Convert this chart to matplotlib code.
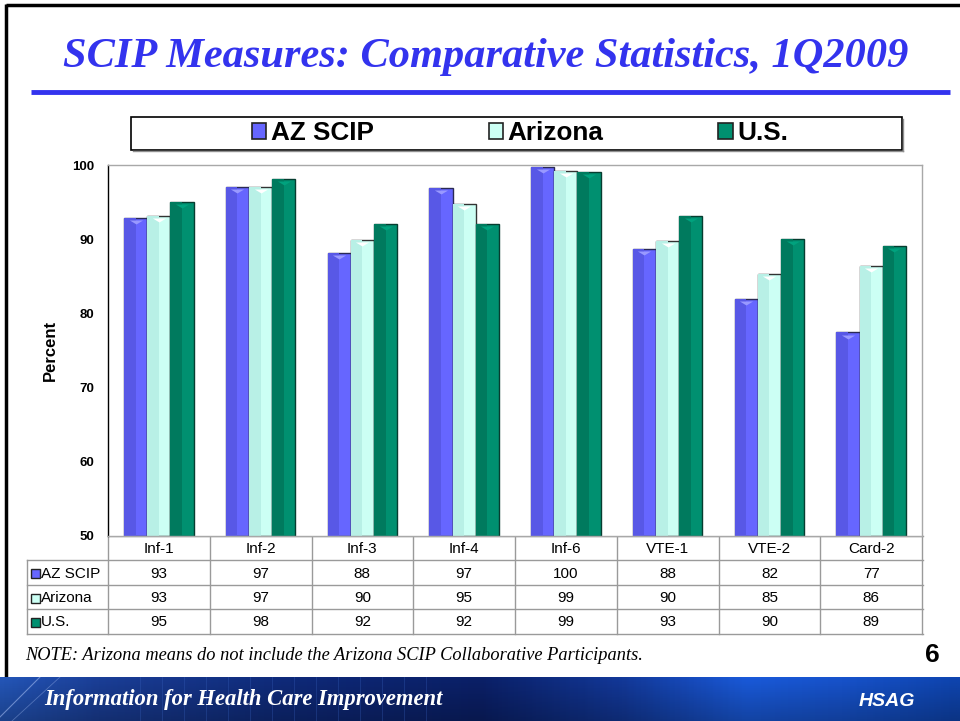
import numpy as np
import matplotlib
matplotlib.use("Agg")
import matplotlib.pyplot as plt
from matplotlib.patches import Rectangle
from matplotlib.colors import LinearSegmentedColormap

# ---------------- data ----------------
categories = ['Inf-1', 'Inf-2', 'Inf-3', 'Inf-4', 'Inf-6', 'VTE-1', 'VTE-2', 'Card-2']
series_names = ['AZ SCIP', 'Arizona', 'U.S.']
az_scip = [92.9, 97.0, 88.1, 96.9, 99.7, 88.7, 81.9, 77.4]
arizona = [93.1, 97.0, 89.9, 94.7, 99.2, 89.7, 85.3, 86.4]
us = [95.0, 98.1, 92.0, 92.0, 99.0, 93.1, 90.0, 89.1]
table_az_scip = [93, 97, 88, 97, 100, 88, 82, 77]
table_arizona = [93, 97, 90, 95, 99, 90, 85, 86]
table_us = [95, 98, 92, 92, 99, 93, 90, 89]
y_ticks = [50, 60, 70, 80, 90, 100]

title = 'SCIP Measures: Comparative Statistics, 1Q2009'
note = 'NOTE: Arizona means do not include the Arizona SCIP Collaborative Participants.'
banner_text = 'Information for Health Care Improvement'
page_no = '6'

# ---------------- style ----------------
face = ['#6666FF', '#CCFFF4', '#009070']
dark = ['#5858E6', '#B8F0E6', '#007A5E']
tri = ['#9999FF', '#FFFFFF', '#00A27E']
edge = ['#2A2A55', '#333333', '#063D30']
title_blue = '#3333EE'

W, H = 960, 721
fig = plt.figure(figsize=(W / 100, H / 100), dpi=100)
fig.patch.set_facecolor('white')

def fx(px):
    return px / W

def fy(py):
    return 1 - py / H

# overlay axes in pixel coords
ov = fig.add_axes([0, 0, 1, 1], zorder=-1)
ov.set_xlim(0, W)
ov.set_ylim(H, 0)
ov.axis('off')

# slide frame
ov.plot([6, 960], [5, 5], color='black', lw=2.5, solid_capstyle='butt')
ov.plot([6, 6], [4, 678], color='black', lw=2.5, solid_capstyle='butt')

# title and divider
fig.text(fx(486), fy(57), title, ha='center', va='center', color=title_blue,
         family='Liberation Serif', style='italic', fontweight='bold', fontsize=30.5)
ov.plot([31, 950], [92, 92], color=title_blue, lw=3.5, solid_capstyle='butt')

# ---------------- chart ----------------
L, R, T, B = 108, 922, 165, 535.5
ax = fig.add_axes([fx(L), fy(B), (R - L) / W, (B - T) / H])
n = len(categories)
x = np.arange(n)
bw = 0.228
all_series = [az_scip, arizona, us]
for i, vals in enumerate(all_series):
    xs = x + (i - 1) * bw
    vals = np.asarray(vals)
    ax.bar(xs, vals - 50, bottom=50, width=bw, color=face[i], edgecolor=edge[i],
           linewidth=1.0, zorder=2)
    ax.bar(xs - bw * 0.25, vals - 50, bottom=50, width=bw * 0.5, color=dark[i],
           linewidth=0, zorder=2.1)
    ax.scatter(xs, vals - 0.55, marker=[(-1, 0.3), (1, 0.3), (0, -0.3)],
               s=90, color=tri[i], linewidths=0, zorder=2.2)

ax.set_xlim(-0.5, n - 0.5)
ax.set_ylim(50, 100)
ax.set_yticks(y_ticks)
ax.set_yticklabels([str(v) for v in y_ticks], fontsize=9.5, fontweight='bold',
                   family='Liberation Sans')
ax.tick_params(axis='y', length=0, pad=10)
ax.set_xticks([])
for s in ['top', 'right']:
    ax.spines[s].set_color('#A8A8A8')
ax.spines['left'].set_color('black')
ax.spines['bottom'].set_color('#A8A8A8')
for s in ax.spines.values():
    s.set_linewidth(1)

fig.text(fx(50), fy(350), 'Percent', rotation=90, ha='center', va='center',
         fontsize=12, fontweight='bold', family='Liberation Sans')

# ---------------- legend ----------------
ov.add_patch(Rectangle((131, 117), 902 - 131, 150 - 117, fill=False,
                       edgecolor='black', lw=1.2))
ov.plot([133, 903], [151, 151], color='#909090', lw=1)
ov.plot([903, 903], [119, 151], color='#909090', lw=1)
handles = [Rectangle((0, 0), 1, 1, facecolor=face[i], edgecolor='#222222', lw=1.2)
           for i in range(3)]
fig.legend(handles, series_names, loc='center', bbox_to_anchor=(fx(520), fy(133.5)),
           ncol=3, frameon=False, prop={'family': 'Liberation Sans', 'weight': 'bold', 'size': 18.8},
           handlelength=0.55, handleheight=0.55, handletextpad=0.18, columnspacing=4.4,
           borderpad=0)

# ---------------- data table ----------------
TL, TR = 27, 923
row_y = [B, 560, 585, 609, 634]
col_w = (R - L) / n
col_edges = [L + k * col_w for k in range(n + 1)]
tc = '#9A9A9A'
tfs = 11
for yy in row_y[1:]:
    ov.plot([TL, TR], [yy, yy], color=tc, lw=1)
ov.plot([L, TR], [B, B], color=tc, lw=1)
ov.plot([TL, TL], [row_y[1], row_y[-1]], color=tc, lw=1)
for k, xe in enumerate(col_edges):
    ov.plot([xe, xe], [B, row_y[-1]], color=tc, lw=1)

for j, cat in enumerate(categories):
    cx = L + (j + 0.5) * col_w
    ov.text(cx, (row_y[0] + row_y[1]) / 2 + 1, cat, ha='center', va='center',
            fontsize=tfs, family='Liberation Sans')
table_rows = [table_az_scip, table_arizona, table_us]
for r, vals in enumerate(table_rows):
    cy = (row_y[r + 1] + row_y[r + 2]) / 2 + 1
    ov.add_patch(Rectangle((31, cy - 4.5), 9, 9, facecolor=face[r], edgecolor='#222222', lw=1))
    ov.text(41, cy, series_names[r], ha='left', va='center', fontsize=tfs,
            family='Liberation Sans')
    for j, v in enumerate(vals):
        cx = L + (j + 0.5) * col_w
        ov.text(cx, cy, str(v), ha='center', va='center', fontsize=tfs,
                family='Liberation Sans')

# note and page number
fig.text(fx(25), fy(655), note, ha='left', va='center', fontsize=13.2,
         family='Liberation Serif', style='italic')
fig.text(fx(932), fy(655), page_no, ha='center', va='center', fontsize=19,
         fontweight='bold', family='Liberation Sans')

# ---------------- footer banner ----------------
ban = fig.add_axes([0, 0, 1, (H - 677) / H])
cmap = LinearSegmentedColormap.from_list('ban', [
    (0.0, '#2456B8'), (0.1, '#1B3F98'), (0.3, '#0F2A7A'), (0.5, '#0B2068'),
    (0.65, '#13399A'), (0.78, '#1A5ADA'), (0.88, '#1753CC'), (1.0, '#0F45B0')])
grad = np.tile(np.linspace(0, 1, 400), (40, 1))
ban.imshow(grad, aspect='auto', cmap=cmap, extent=[0, W, 0, 44])
shade = np.linspace(0.0, 0.25, 40)[:, None] * np.ones((1, 400))
ban.imshow(np.zeros_like(shade), aspect='auto', cmap='gray', alpha=shade,
           extent=[0, W, 0, 44])
ban.set_xlim(0, W)
ban.set_ylim(0, 44)
ban.axis('off')
for k in range(14):
    xv = 140 + k * 22
    ban.plot([xv, xv], [0, 44], color='#3a64c0', lw=0.6, alpha=0.35)
ban.plot([0, 40], [4, 44], color='#9fb8ee', lw=0.8, alpha=0.6)
ban.plot([12, 60], [0, 44], color='#9fb8ee', lw=0.6, alpha=0.4)
ban.text(44, 22, banner_text, ha='left', va='center', color='white',
         family='Liberation Serif', style='italic', fontweight='bold', fontsize=16.3)
ban.text(887, 20, 'HSAG', ha='center', va='center', color='white',
         family='Liberation Sans', style='italic', fontweight='bold', fontsize=14)

fig.savefig('out.png', dpi=100)
